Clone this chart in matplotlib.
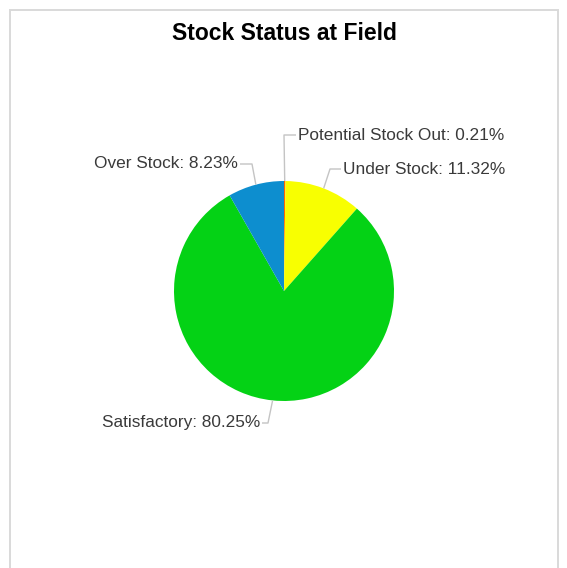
import matplotlib

matplotlib.use("Agg")

import matplotlib.pyplot as plt
from matplotlib.patches import Rectangle
import numpy as np

# Data
categories = ["Potential Stock Out", "Under Stock", "Satisfactory", "Over Stock"]
shares = [0.21, 11.32, 80.25, 8.23]
colors = ["#FF6600", "#F8FF01", "#04D215", "#0D8ECF"]

# Layout (in pixels, y measured from the top of the image)
W, H = 567, 568
CENTER = (284, 291)
RADIUS = 110
# elbow of each leader line and the side the text sits on
elbows = [(284, 135), (330, 169), (268, 423), (252, 164)]
text_gap = [12, 11, -6, -12]

plt.rcParams["font.family"] = ["Liberation Sans", "DejaVu Sans"]

fig = plt.figure(figsize=(W / 100, H / 100), dpi=100)
ax = fig.add_axes([0, 0, 1, 1])


def flip(y):
    return H - y


wedges, _ = ax.pie(shares, colors=colors, startangle=90, counterclock=False,
                   center=(CENTER[0], flip(CENTER[1])), radius=RADIUS,
                   wedgeprops=dict(linewidth=0))

# pie() resets the limits, so set the pixel frame afterwards
ax.set_xlim(0, W)
ax.set_ylim(0, H)
ax.set_aspect("equal")
ax.axis("off")

# panel border
ax.add_patch(Rectangle((10, -5), 548, flip(10) + 5, fill=False,
                       edgecolor="#d9d9d9", linewidth=1.4))

ax.text(CENTER[0], flip(34), "Stock Status at Field", ha="center",
        va="center", fontsize=16.5, fontweight="bold", color="#000000")

# leader lines and labels
for w, name, val, (ex, ey), gap in zip(wedges, categories, shares, elbows, text_gap):
    mid = np.deg2rad((w.theta1 + w.theta2) / 2)
    sx = CENTER[0] + RADIUS * np.cos(mid)
    sy = flip(CENTER[1]) + RADIUS * np.sin(mid)
    tx = ex + gap
    ax.plot([sx, ex, tx], [sy, flip(ey), flip(ey)], color="#c4c4c4",
            linewidth=1.0, solid_capstyle="butt")
    ax.text(tx + (2 if gap > 0 else -2), flip(ey), f"{name}: {val:.2f}%",
            ha="left" if gap > 0 else "right", va="center",
            fontsize=12.4, color="#3a3a3a")

fig.savefig("out.png", dpi=100)
